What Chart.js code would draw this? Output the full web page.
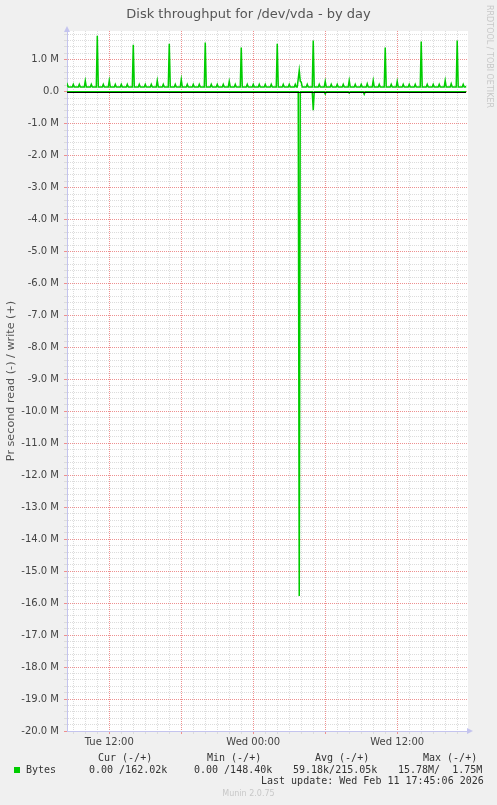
<!DOCTYPE html>
<html>
<head>
<meta charset="utf-8">
<script src="https://cdn.jsdelivr.net/npm/chart.js@4/dist/chart.umd.min.js"></script>
<style>
  body { margin: 0; background: #f0f0f0; }
  #wrap { position: relative; width: 497px; height: 805px; }
  #wrap div { position: absolute; white-space: pre; }
  .title { left: 0; width: 497px; top: 5px; text-align: center; font: 13px 'DejaVu Sans'; line-height: 17px; color: #555; }
  .mono { font: 10px 'DejaVu Sans Mono'; line-height: 12px; color: #333; }
  .small { font: 8px 'DejaVu Sans'; line-height: 10px; color: #c8c8c8; }
</style>
</head>
<body>
<div id="wrap">
  <canvas id="chart" width="497" height="805"></canvas>
  <div class="title">Disk throughput for /dev/vda - by day</div>
  <div class="small" style="left:484px;top:5px;writing-mode:vertical-rl;">RRDTOOL / TOBI OETIKER</div>

  <div class="mono" style="left:98px;top:752px">Cur (-/+)</div>
  <div class="mono" style="left:207px;top:752px">Min (-/+)</div>
  <div class="mono" style="left:315px;top:752px">Avg (-/+)</div>
  <div class="mono" style="left:423px;top:752px">Max (-/+)</div>

  <div style="left:14px;top:767px;width:6px;height:6px;background:#00cc00"></div>
  <div class="mono" style="left:26px;top:764px">Bytes</div>
  <div class="mono" style="left:89px;top:764px">0.00 /162.02k</div>
  <div class="mono" style="left:194px;top:764px">0.00 /148.40k</div>
  <div class="mono" style="left:293px;top:764px">59.18k/215.05k</div>
  <div class="mono" style="left:398px;top:764px">15.78M/  1.75M</div>

  <div class="mono" style="left:261px;top:775px">Last update: Wed Feb 11 17:45:06 2026</div>
  <div class="small" style="left:0;width:497px;text-align:center;top:789px">Munin 2.0.75</div>
</div>
<script>
// write (+), kB/s, one sample every 5 minutes from Tue 08:25, one row per hour
const writeStart = 'Tue 08:25';
const writeStepMinutes = 5;
const writeK = [
  150,230,150,150,150,150,150, 230,150,150,150,150, // Tue 08:25
  150,230,150,150,150,150,150, 340,150,150,150,150, // 09:25
  150,230,150,150,150,150,150,1750,150,150,150,150, // 10:25
  150,230,150,150,150,150,150, 350,150,150,150,150, // 11:25
  150,230,150,150,150,150,150, 230,150,150,150,150, // 12:25
  150,230,150,150,150,150,150,1470,150,150,150,150, // 13:25
  150,230,150,150,150,150,150, 230,150,150,150,150, // 14:25
  150,230,150,150,150,150,150, 350,150,150,150,150, // 15:25
  150,230,150,150,150,150,150,1500,150,150,150,150, // 16:25
  150,230,150,150,150,150,150, 380,150,150,150,150, // 17:25
  150,230,150,150,150,150,150, 230,150,150,150,150, // 18:25
  150,230,150,150,150,150,150,1540,150,150,150,150, // 19:25
  150,230,150,150,150,150,150, 230,150,150,150,150, // 20:25
  150,230,150,150,150,150,150, 320,150,150,150,150, // 21:25
  150,230,150,150,150,150,150,1380,150,150,150,150, // 22:25
  150,230,150,150,150,150,150, 230,150,150,150,150, // 23:25
  150,230,150,150,150,150,150, 230,150,150,150,150, // Wed 00:25
  150,230,150,150,150,150,150,1500,150,150,150,150, // 01:25
  150,230,150,150,150,150,150, 230,150,150,150,150, // 02:25
  150,230,150,150,400,660,330, 300,150,150,150,150, // 03:25
  150,230,150,150,150,150,150,1600,150,150,150,150, // 04:25
  150,230,150,150,150,150,150, 320,150,150,150,150, // 05:25
  150,230,150,150,150,150,150, 230,150,150,150,150, // 06:25
  150,230,150,150,150,150,150, 350,150,150,150,150, // 07:25
  150,230,150,150,150,150,150, 230,150,150,150,150, // 08:25
  150,250,150,150,150,150,150, 350,150,150,150,150, // 09:25
  150,230,150,150,150,150,150,1380,150,150,150,150, // 10:25
  150,230,150,150,150,150,150, 320,150,150,150,150, // 11:25
  150,230,150,150,150,150,150, 230,150,150,150,150, // 12:25
  150,230,150,150,150,150,150,1570,150,150,150,150, // 13:25
  150,230,150,150,150,150,150, 230,150,150,150,150, // 14:25
  150,230,150,150,150,150,150, 350,150,150,150,150, // 15:25
  150,250,150,150,150,150,150,1600,150,150,150,150, // 16:25
  150,230,150,150,162                               // 17:25
];

// read (-), kB/s, only where it leaves zero
const readTimes = ['Tue 08:25', 'Wed 03:45', 'Wed 03:50', 'Wed 03:55', 'Wed 04:55', 'Wed 05:00', 'Wed 05:05',
                   'Wed 05:55', 'Wed 06:00', 'Wed 06:05', 'Wed 07:55', 'Wed 08:00', 'Wed 08:05',
                   'Wed 09:10', 'Wed 09:15', 'Wed 09:20', 'Wed 17:45'];
const readK = [0, 0, -15780, 0, 0, -580, 0, 0, -70, 0, 0, -40, 0, 0, -80, 0, 0];

const xTickHours = [12, 24, 36];
const xTickLabels = ['Tue 12:00', 'Wed 00:00', 'Wed 12:00'];
const xMin = 8.475, xMax = 41.9;           // hours since Tue 00:00
const yMin = -20e6, yMax = 1.9e6;

function toHours(s) {
  const [day, hm] = s.split(' ');
  const [h, m] = hm.split(':').map(Number);
  return (day === 'Wed' ? 24 : 0) + h + m / 60;
}

const start = toHours(writeStart);
const writeData = writeK.map((v, i) => ({ x: start + i * writeStepMinutes / 60, y: v * 1000 }));
const readData = readTimes.map((t, i) => ({ x: toHours(t), y: readK[i] * 1000 }));

// grid positions: every hour on x, every 0.2 M on y
const xGrid = [];
for (let h = Math.ceil(xMin); h <= xMax; h++) xGrid.push(h);
const yGrid = [];
for (let k = -100; k * 2e5 < yMax; k++) yGrid.push(k * 2e5);

const GREEN = '#00cc00';
const MAJOR = '#ee9090';
const MINOR = '#dcdcdc';
const AXIS = '#c4c4ee';

const isMajorY = v => Math.abs(Math.round(v / 1e6) * 1e6 - v) < 1;
const isMajorX = v => Math.round(v) % 6 === 0;

const munin = {
  id: 'munin',
  beforeDraw(chart) {
    const { ctx, chartArea: a } = chart;
    ctx.save();
    ctx.fillStyle = '#fff';
    ctx.fillRect(a.left, a.top, a.right - a.left, a.bottom - a.top);
    ctx.restore();
  },
  afterDatasetsDraw(chart) {
    // zero line goes on top of the data, as rrdtool does
    const { ctx, chartArea: a, scales: { y } } = chart;
    const py = Math.round(y.getPixelForValue(0)) + 0.5;
    ctx.save();
    ctx.strokeStyle = '#000';
    ctx.lineWidth = 1;
    ctx.beginPath();
    ctx.moveTo(a.left, py);
    ctx.lineTo(a.right - 2, py);
    ctx.stroke();
    ctx.restore();
  },
  afterDraw(chart) {
    const { ctx, chartArea: a } = chart;
    ctx.save();
    ctx.fillStyle = AXIS;
    ctx.beginPath();
    ctx.moveTo(a.left, a.top - 5);
    ctx.lineTo(a.left - 3, a.top + 1);
    ctx.lineTo(a.left + 3, a.top + 1);
    ctx.fill();
    ctx.beginPath();
    ctx.moveTo(a.right + 5, a.bottom);
    ctx.lineTo(a.right - 1, a.bottom - 3);
    ctx.lineTo(a.right - 1, a.bottom + 3);
    ctx.fill();
    ctx.restore();
  }
};

new Chart(document.getElementById('chart'), {
  type: 'line',
  data: {
    datasets: [
      { label: 'write', data: writeData, borderColor: GREEN, borderWidth: 1.5, pointRadius: 0, tension: 0 },
      { label: 'read', data: readData, borderColor: GREEN, borderWidth: 1.5, pointRadius: 0, tension: 0 }
    ]
  },
  options: {
    responsive: false,
    animation: false,
    layout: { padding: { top: 31, right: 29, bottom: 54, left: 0 } },
    plugins: { legend: { display: false }, tooltip: { enabled: false }, title: { display: false } },
    scales: {
      x: {
        type: 'linear',
        min: xMin,
        max: xMax,
        afterBuildTicks: s => { s.ticks = xGrid.map(v => ({ value: v })); },
        afterFit: s => { s.height = 20; },
        ticks: {
          autoSkip: false,
          maxRotation: 0,
          padding: 2,
          color: '#444',
          font: { family: 'DejaVu Sans', size: 10 },
          callback: v => {
            const i = xTickHours.indexOf(v);
            return i >= 0 ? xTickLabels[i] : '';
          }
        },
        grid: {
          color: c => (isMajorX(c.tick.value) ? MAJOR : MINOR),
          tickLength: 3,
          lineWidth: 1
        },
        border: {
          color: AXIS,
          width: 1,
          dash: [1, 1]
        }
      },
      y: {
        type: 'linear',
        min: yMin,
        max: yMax,
        afterBuildTicks: s => { s.ticks = yGrid.map(v => ({ value: v })); },
        afterFit: s => { s.width = 67; },
        ticks: {
          autoSkip: false,
          padding: 5,
          color: '#444',
          font: { family: 'DejaVu Sans', size: 10 },
          callback: v => (isMajorY(v) ? (Math.round(v) === 0 ? '0.0' : (v / 1e6).toFixed(1) + ' M') : '')
        },
        grid: {
          color: c => (isMajorY(c.tick.value) ? MAJOR : MINOR),
          tickLength: 3,
          lineWidth: 1
        },
        border: {
          color: AXIS,
          width: 1,
          dash: [1, 1]
        },
        title: {
          display: true,
          text: 'Pr second read (-) / write (+)',
          color: '#555',
          font: { family: 'DejaVu Sans', size: 11.2 },
          padding: { top: 4, bottom: 4 }
        }
      }
    }
  },
  plugins: [munin]
});
</script>
</body>
</html>
